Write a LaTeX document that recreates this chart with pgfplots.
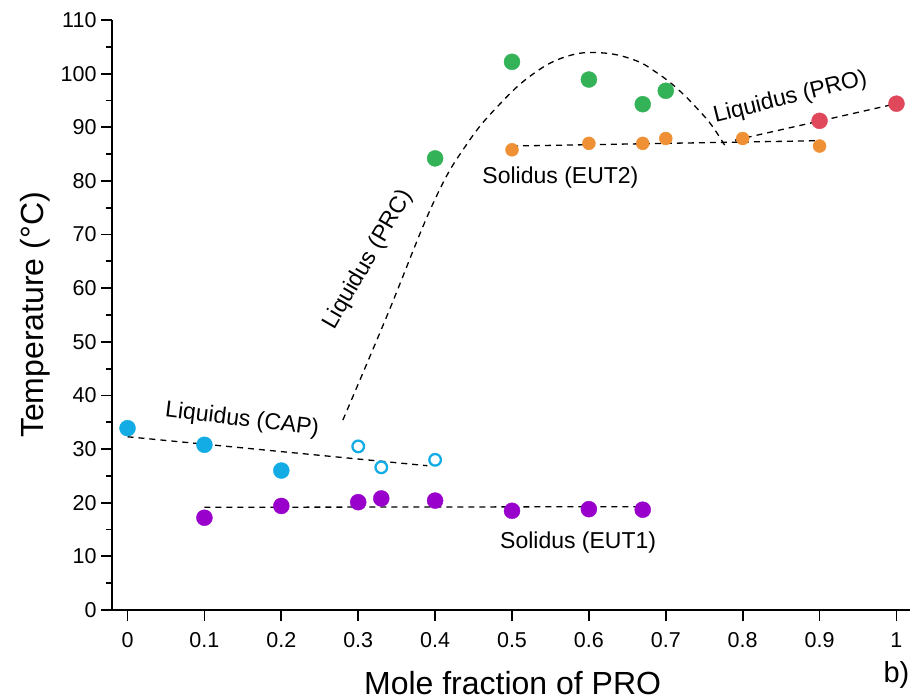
\documentclass[border=0pt]{standalone}
\usepackage{fontspec}
\setmainfont{Liberation Sans}
\usepackage{pgfplots}
\pgfplotsset{compat=1.18}

\definecolor{cyanP}{RGB}{20,172,228}
\definecolor{purpleP}{RGB}{153,0,204}
\definecolor{greenP}{RGB}{52,178,88}
\definecolor{orangeP}{RGB}{240,144,52}
\definecolor{redP}{RGB}{224,72,92}

\begin{document}
\begin{tikzpicture}
\useasboundingbox (-112bp,-88bp) rectangle (798bp,610bp);
\begin{axis}[
    scale only axis,
    width=798bp, height=590bp,
    xmin=-0.0202, xmax=1.0176,
    ymin=0, ymax=110,
    axis x line*=bottom, axis y line*=left,
    axis line style={line width=2bp},
    tick align=outside,
    major tick length=11bp, minor tick length=6bp,
    every tick/.style={line width=1.8bp, black},
    xtick={0,0.1,0.2,0.3,0.4,0.5,0.6,0.7,0.8,0.9,1},
    xticklabels={0,0.1,0.2,0.3,0.4,0.5,0.6,0.7,0.8,0.9,1},
    ytick={0,10,...,110},
    minor y tick num=1,
    /pgf/number format/assume math mode=true,
    tick label style={font=\fontsize{21.5bp}{25bp}\selectfont},
    xticklabel style={yshift=-8bp},
    yticklabel style={xshift=-1bp},
    xlabel={Mole fraction of PRO},
    ylabel={Temperature (°C)},
    label style={font=\fontsize{32bp}{36bp}\selectfont},
    xlabel style={at={(axis description cs:0.502,-0.144)}, anchor=base},
    ylabel style={at={(axis description cs:-0.0965,0.5)}, anchor=center},
    clip=false,
    guide/.style={black, line width=1.3bp, dash pattern=on 6bp off 5bp, no marks},
    dot/.style={only marks, mark=*, mark size=#1, mark options={solid, draw=none}},
]

% Liquidus (CAP), filled
\addplot[dot=8bp, color=cyanP, fill=cyanP]
    coordinates {(0,33.9) (0.1,30.8) (0.2,26.0)};
% Liquidus (CAP), open
\addplot[only marks, mark=o, mark size=5.8bp, color=cyanP, mark options={solid, line width=2.3bp, fill=white}]
    coordinates {(0.3,30.5) (0.33,26.6) (0.4,28.0)};
% Solidus (EUT1)
\addplot[dot=8bp, color=purpleP, fill=purpleP]
    coordinates {(0.1,17.2) (0.2,19.4) (0.3,20.1) (0.33,20.8) (0.4,20.4) (0.5,18.5) (0.6,18.8) (0.67,18.7)};
% Liquidus (PRC)
\addplot[dot=8bp, color=greenP, fill=greenP]
    coordinates {(0.4,84.2) (0.5,102.2) (0.6,98.9) (0.67,94.3) (0.7,96.8)};
% Solidus (EUT2)
\addplot[dot=6.5bp, color=orangeP, fill=orangeP]
    coordinates {(0.5,85.8) (0.6,87.0) (0.67,87.0) (0.7,87.9) (0.8,87.9) (0.9,86.5)};
% Liquidus (PRO)
\addplot[dot=8bp, color=redP, fill=redP]
    coordinates {(0.9,91.2) (1.0,94.4)};

% dashed guide lines
\addplot[guide] coordinates {(0,32.3) (0.39,26.9)};
\addplot[guide] coordinates {(0.1,19.15) (0.677,19.26)};
\addplot[guide] coordinates {(0.5,86.5) (0.9,87.5)};
\addplot[guide] coordinates {(0.79,87.6) (1.0,94.4)};
\addplot[guide, smooth, tension=0.7] coordinates {(0.280,35.4) (0.337,54.7) (0.398,76.0) (0.441,86.8) (0.484,94.3)
    (0.528,100.0) (0.571,103.2) (0.614,103.9) (0.658,102.6) (0.690,100.0) (0.718,96.8)
    (0.744,93.0) (0.761,90.1) (0.779,86.1)};

\begin{scope}[every node/.style={font=\fontsize{23bp}{27bp}\selectfont}]
\node[rotate=-7] at (axis cs:0.149,35.4) {Liquidus (CAP)};
\node[rotate=60] at (axis cs:0.313,65.3) {Liquidus (PRC)};
\node at (axis cs:0.563,80.7) {Solidus (EUT2)};
\node[rotate=14] at (axis cs:0.862,95.5) {Liquidus (PRO)};
\node at (axis cs:0.586,12.5) {Solidus (EUT1)};
\end{scope}
\node[anchor=base east, inner sep=0pt, font=\fontsize{29bp}{34bp}\selectfont] at (axis description cs:0.9995,-0.1237) {b)};

\end{axis}
\end{tikzpicture}
\end{document}
